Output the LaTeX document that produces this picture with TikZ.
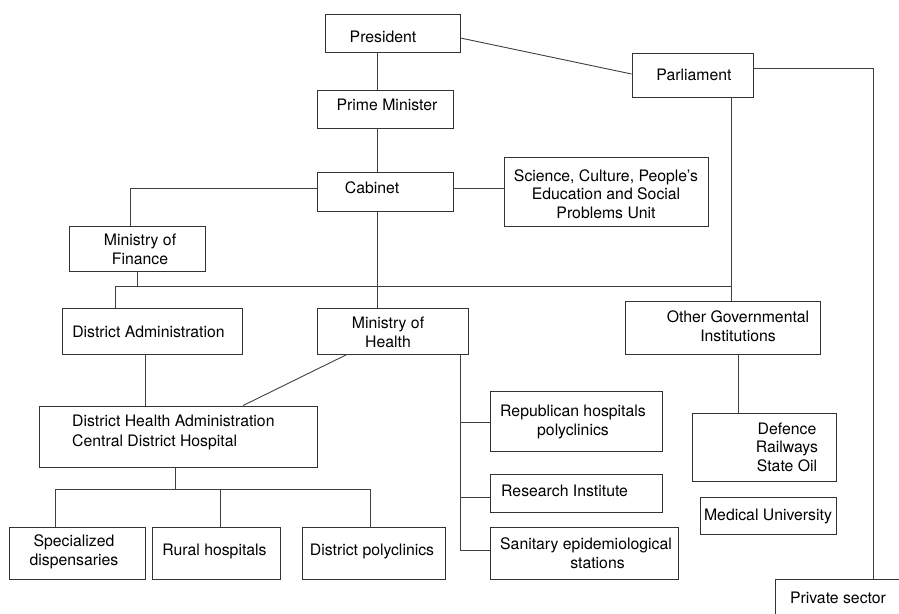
\documentclass[tikz,border=0pt]{standalone}
\usepackage{fontspec}
\setmainfont{TeX Gyre Heros}
\begin{document}
\begin{tikzpicture}[x=1pt,y=-1pt,
  orgbox/.style={draw=black!80, line width=0.9pt, inner sep=0pt, fill=white},
  lbl/.style={anchor=base, inner sep=0pt, align=center,
              font=\fontsize{15.8}{18.5}\selectfont},
  link/.style={draw=black!75, line width=0.9pt}]
\useasboundingbox (0,0) rectangle (899,613);

% ---------- boxes ----------
\node[orgbox, minimum width=135pt, minimum height=38pt] (pres)  at (392.5,33)   {};
\node[orgbox, minimum width=121pt, minimum height=44pt] (parl)  at (692.5,75)   {};
\node[orgbox, minimum width=136pt, minimum height=38pt] (pm)    at (385,109)    {};
\node[orgbox, minimum width=136pt, minimum height=39pt] (cab)   at (385,191.5)  {};
\node[orgbox, minimum width=204pt, minimum height=69pt] (sci)   at (606,191.5)  {};
\node[orgbox, minimum width=136pt, minimum height=45pt] (mof)   at (137,248.5)  {};
\node[orgbox, minimum width=180pt, minimum height=46pt] (da)    at (152,331)    {};
\node[orgbox, minimum width=151pt, minimum height=46pt] (moh)   at (392.5,331)  {};
\node[orgbox, minimum width=195pt, minimum height=53pt] (ogi)   at (722.5,327.5){};
\node[orgbox, minimum width=278pt, minimum height=61pt] (dha)   at (178,436.5)  {};
\node[orgbox, minimum width=136pt, minimum height=52pt] (spec)  at (77,553)     {};
\node[orgbox, minimum width=128pt, minimum height=52pt] (rural) at (216,553)    {};
\node[orgbox, minimum width=143pt, minimum height=52pt] (dpoly) at (373.5,553)  {};
\node[orgbox, minimum width=172pt, minimum height=60pt] (rep)   at (576,421)    {};
\node[orgbox, minimum width=172pt, minimum height=38pt] (res)   at (576,493)    {};
\node[orgbox, minimum width=188pt, minimum height=52pt] (san)   at (584,553)    {};
\node[orgbox, minimum width=144pt, minimum height=68pt] (def)   at (764,447.5)  {};
\node[orgbox, minimum width=136pt, minimum height=37pt] (med)   at (768,515.5)  {};
\node[orgbox, minimum width=165pt, minimum height=71pt] (priv)  at (858,614.5)  {};

% ---------- labels (anchored at the baseline of the last line) ----------
\node[lbl] (pres-t)  at (383,42)   {President};
\node[lbl] (parl-t)  at (694,80)   {Parliament};
\node[lbl] (pm-t)    at (387,110)  {Prime Minister};
\node[lbl] (cab-t)   at (372,193)  {Cabinet};
\node[lbl] (sci-t)   at (606,218)  {Science, Culture, People’s\\Education and Social\\Problems Unit};
\node[lbl] (mof-t)   at (140,264)  {Ministry of\\Finance};
\node[lbl] (da-t)    at (148.5,337){District Administration};
\node[lbl] (moh-t)   at (388,347)  {Ministry of\\Health};
\node[lbl] (ogi-t)   at (738,341)  {Other Governmental\\Institutions};
\node[lbl, anchor=base west, align=left] (dha-t) at (72,446)
      {District Health Administration\\[1pt]Central District Hospital};
\node[lbl] (spec-t)  at (74,565)   {Specialized\\dispensaries};
\node[lbl] (rural-t) at (214.5,555){Rural hospitals};
\node[lbl] (dpoly-t) at (372,555)  {District polyclinics};
\node[lbl] (rep-t)   at (573,435)  {Republican hospitals\\polyclinics};
\node[lbl, anchor=base west] (res-t) at (501,496) {Research Institute};
\node[lbl] (san-t)   at (586,568)  {Sanitary epidemiological\\\hspace*{23pt}stations};
\node[lbl] (def-t)   at (787,471)  {Defence\\Railways\\State Oil};
\node[lbl] (med-t)   at (768,520)  {Medical University};
\node[lbl] (priv-t)  at (838,603)  {Private sector};

% ---------- guide coordinates for the connector runs ----------
\coordinate (vMain)   at (377,0);
\coordinate (vFin)    at (130,0);
\coordinate (vFinDn)  at (137,0);
\coordinate (vDA)     at (115,0);
\coordinate (vParl)   at (731,0);
\coordinate (vRight)  at (873,0);
\coordinate (vOGI)    at (738,0);
\coordinate (vDHA1)   at (145,0);
\coordinate (vMoHd)   at (347,0);
\coordinate (vDHA2)   at (243,0);
\coordinate (vMoH)    at (460,0);
\coordinate (vDHAdn)  at (175,0);
\coordinate (vSpec)   at (55,0);
\coordinate (vRural)  at (220,0);
\coordinate (vDpoly)  at (370,0);
\coordinate (hCab)    at (0,188);
\coordinate (hBus)    at (0,286);
\coordinate (hParl)   at (0,68);
\coordinate (hPres)   at (0,38);
\coordinate (hParlIn) at (0,74);
\coordinate (hRep)    at (0,422);
\coordinate (hRes)    at (0,497);
\coordinate (hSan)    at (0,550);
\coordinate (hFac)    at (0,489);

% ---------- connectors ----------
\draw[link] (pres.south -| vMain) -- (pm.north -| vMain);
\draw[link] (pm.south -| vMain) -- (cab.north -| vMain);
\draw[link] (cab.south -| vMain) -- (moh.north -| vMain);
\draw[link] (pres.east |- hPres) -- (parl.west |- hParlIn);
\draw[link] (cab.west |- hCab) -| (mof.north -| vFin);
\draw[link] (cab.east |- hCab) -- (sci.west |- hCab);
\draw[link] (mof.south -| vFinDn) -- (vFinDn |- hBus);
\draw[link] (vDA |- hBus) -- (vParl |- hBus);
\draw[link] (vDA |- hBus) -- (da.north -| vDA);
\draw[link] (parl.south -| vParl) -- (ogi.north -| vParl);
\draw[link] (parl.east |- hParl) -| (priv.north -| vRight);
\draw[link] (ogi.south -| vOGI) -- (def.north -| vOGI);
\draw[link] (da.south -| vDHA1) -- (dha.north -| vDHA1);
\draw[link] (moh.south -| vMoHd) -- (dha.north -| vDHA2);
\draw[link] (moh.south -| vMoH) -- (vMoH |- hSan) -- (san.west |- hSan);
\draw[link] (vMoH |- hRep) -- (rep.west |- hRep);
\draw[link] (vMoH |- hRes) -- (res.west |- hRes);
\draw[link] (dha.south -| vDHAdn) -- (vDHAdn |- hFac);
\draw[link] (vSpec |- hFac) -- (vDpoly |- hFac);
\draw[link] (vSpec |- hFac) -- (spec.north -| vSpec);
\draw[link] (vRural |- hFac) -- (rural.north -| vRural);
\draw[link] (vDpoly |- hFac) -- (dpoly.north -| vDpoly);
\end{tikzpicture}
\end{document}
